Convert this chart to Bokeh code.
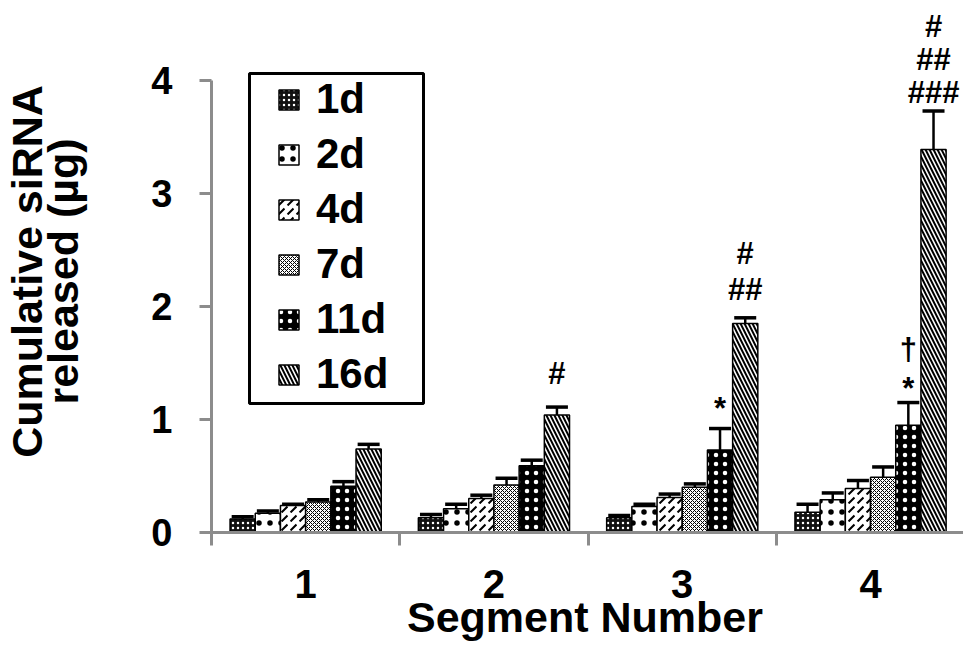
from bokeh.plotting import figure
from bokeh.models import (Range1d, FixedTicker, ColumnDataSource, Whisker, TeeHead,
                          Legend, LegendItem, BoxAnnotation)
from bokeh.core.properties import value
from bokeh.embed import file_html
from bokeh.resources import INLINE

# ---------------- data ----------------
segments = [1, 2, 3, 4]
series = ["1d", "2d", "4d", "7d", "11d", "16d"]
vals_1d = [0.12, 0.13, 0.13, 0.18]
vals_2d = [0.17, 0.21, 0.23, 0.29]
vals_4d = [0.24, 0.30, 0.31, 0.39]
vals_7d = [0.27, 0.42, 0.40, 0.49]
vals_11d = [0.41, 0.59, 0.73, 0.95]
vals_16d = [0.74, 1.04, 1.85, 3.39]
err_1d = [0.02, 0.03, 0.02, 0.07]
err_2d = [0.02, 0.04, 0.02, 0.06]
err_4d = [0.01, 0.03, 0.03, 0.07]
err_7d = [0.02, 0.06, 0.03, 0.09]
err_11d = [0.04, 0.05, 0.19, 0.20]
err_16d = [0.04, 0.07, 0.05, 0.34]
y_ticks = [0, 1, 2, 3, 4]
x_tick_labels = ["1", "2", "3", "4"]
# significance marks: (text, segment, series, y position)
marks_text = ["#", "*", "#", "##", "\u2020", "*", "#", "##", "###"]
marks_seg = [2, 3, 3, 3, 4, 4, 4, 4, 4]
marks_series = ["16d", "11d", "16d", "16d", "11d", "11d", "16d", "16d", "16d"]
marks_y = [1.41, 1.10, 2.47, 2.15, 1.62, 1.27, 4.48, 4.19, 3.89]

values = [vals_1d, vals_2d, vals_4d, vals_7d, vals_11d, vals_16d]
errors = [err_1d, err_2d, err_4d, err_7d, err_11d, err_16d]

styles = {
    "1d": dict(fill_color="#111111", hatch_pattern="dot", hatch_color="white", hatch_scale=5, hatch_weight=2),
    "2d": dict(fill_color="white", hatch_pattern="dot", hatch_color="black", hatch_scale=11, hatch_weight=1),
    "4d": dict(fill_color="white", hatch_pattern="right_diagonal_dash", hatch_color="black", hatch_scale=9, hatch_weight=2),
    "7d": dict(fill_color="white", hatch_pattern="diagonal_cross", hatch_color="black", hatch_scale=4, hatch_weight=1),
    "11d": dict(fill_color="black", hatch_pattern="dot", hatch_color="white", hatch_scale=9, hatch_weight=3),
    "16d": dict(fill_color="white", hatch_pattern="left_diagonal_line", hatch_color="black", hatch_scale=8, hatch_weight=2),
}

FONT = "Liberation Sans"
bar_w = 0.1338

p = figure(width=963, height=648, output_backend="svg", toolbar_location=None,
           x_range=Range1d(0.47345, 4.4937), y_range=Range1d(0, 4.6195),
           min_border_left=206, min_border_right=0, min_border_top=10, min_border_bottom=116)
p.outline_line_color = None
p.xgrid.grid_line_color = None
p.ygrid.grid_line_color = None
p.background_fill_color = "white"

# y axis
p.yaxis.ticker = FixedTicker(ticks=y_ticks, minor_ticks=[])
p.yaxis.axis_line_color = None
p.yaxis.major_tick_line_color = "#8c8c8c"
p.yaxis.major_tick_line_width = 3
p.yaxis.major_tick_in = 5
p.yaxis.major_tick_out = 7
p.yaxis.minor_tick_line_color = None
p.yaxis.minor_tick_in = 0
p.yaxis.minor_tick_out = 0
p.yaxis.major_label_standoff = 27
p.yaxis.major_label_text_font = FONT
p.yaxis.major_label_text_font_style = "bold"
p.yaxis.major_label_text_font_size = "38px"
p.yaxis.major_label_text_color = "black"
p.yaxis.axis_label = "Cumulative siRNA\nreleased (\u00b5g)"
p.yaxis.axis_label_text_font = FONT
p.yaxis.axis_label_text_font_style = "bold"
p.yaxis.axis_label_text_font_size = "43px"
p.yaxis.axis_label_text_line_height = 0.75
p.yaxis.axis_label_text_color = "black"
p.yaxis.axis_label_standoff = 61

# x axis
p.xaxis.ticker = FixedTicker(ticks=segments, minor_ticks=[0.5, 1.5, 2.5, 3.5, 4.5])
p.xaxis.major_label_overrides = {s: t for s, t in zip(segments, x_tick_labels)}
p.xaxis.axis_line_color = "#8c8c8c"
p.xaxis.axis_line_width = 3
p.xaxis.major_tick_line_color = None
p.xaxis.major_tick_in = 0
p.xaxis.major_tick_out = 0
p.xaxis.minor_tick_line_color = "#8c8c8c"
p.xaxis.minor_tick_line_width = 3
p.xaxis.minor_tick_in = 0
p.xaxis.minor_tick_out = 13
p.xaxis.major_label_standoff = 24
p.xaxis.major_label_text_font = FONT
p.xaxis.major_label_text_font_style = "bold"
p.xaxis.major_label_text_font_size = "40px"
p.xaxis.major_label_text_color = "black"
p.xaxis.axis_label = "Segment Number"
p.xaxis.axis_label_text_font = FONT
p.xaxis.axis_label_text_font_style = "bold"
p.xaxis.axis_label_text_font_size = "43px"
p.xaxis.axis_label_text_color = "black"
p.xaxis.axis_label_standoff = -8

# y axis line (stops at 4)
p.segment(x0=[0.5], y0=[0], x1=[0.5], y1=[y_ticks[-1]], line_color="#8c8c8c", line_width=3)

items = []
for i, (name, vals, errs) in enumerate(zip(series, values, errors)):
    off = (i - 2.5) * bar_w
    xs = [s + off for s in segments]
    src = ColumnDataSource(dict(x=xs, top=vals, upper=[v + e for v, e in zip(vals, errs)]))
    r = p.vbar(x="x", top="top", width=bar_w, source=src, line_color="black", line_width=1.5,
               **styles[name])
    w = Whisker(base="x", upper="upper", lower="top", source=src, dimension="height",
                line_color="black", line_width=2.5,
                upper_head=TeeHead(size=22, line_width=3.5, line_color="black"), lower_head=None)
    p.add_layout(w)
    items.append(LegendItem(label=name, renderers=[r]))

# significance marks
mx = [s + (series.index(n) - 2.5) * bar_w for s, n in zip(marks_seg, marks_series)]
p.text(x=mx, y=marks_y, text=marks_text, text_align="center", text_baseline="middle",
       text_font=value(FONT), text_font_style="bold", text_font_size="31px", text_color="black")

legend = Legend(items=items, location=(70, 134), padding=0, margin=0,
                border_line_color=None, background_fill_alpha=0,
                label_text_font=FONT, label_text_font_style="bold", label_text_font_size="42px",
                label_text_color="black", glyph_width=25, glyph_height=25, label_height=25,
                spacing=7, label_standoff=15)
p.add_layout(legend, "center")

box = BoxAnnotation(left=0.7018, right=1.6259, bottom=1.142, top=4.062,
                    fill_color=None, fill_alpha=0, line_color="black", line_alpha=1.0, line_width=3)
p.add_layout(box)

open("out.html", "w").write(file_html(p, INLINE))
